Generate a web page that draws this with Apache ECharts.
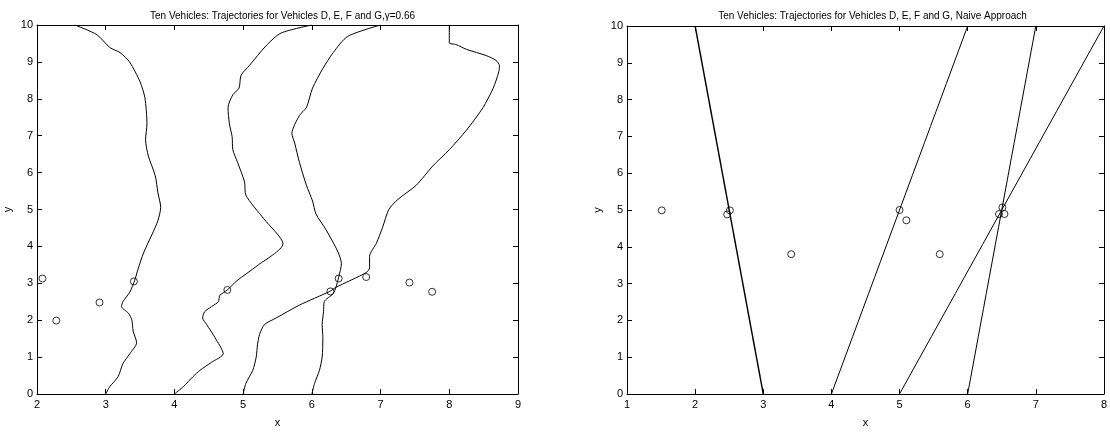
<!DOCTYPE html>
<html lang="en">
<head>
    <meta charset="UTF-8">
    <title>Ten Vehicles: Trajectories</title>
    <script src="https://cdn.jsdelivr.net/npm/echarts@6/dist/echarts.min.js"></script>
    <style>
        body { margin: 0; background: #fff; }
        #chart { width: 1110px; height: 433px; }
    </style>
</head>
<body>
<div id="chart"></div>
<script>
// trajectories with gamma = 0.66 (left plot)
const trajD = [[3.00,0],[3.06,0.20],[3.18,0.47],[3.25,0.82],[3.35,1.09],[3.45,1.39],[3.40,1.70],[3.38,2.01],[3.33,2.19],[3.23,2.37],[3.25,2.50],[3.35,2.76],[3.42,3.07],[3.47,3.38],[3.55,3.82],[3.67,4.31],[3.76,4.70],[3.80,5.06],[3.76,5.45],[3.72,5.92],[3.62,6.45],[3.58,6.89],[3.60,7.32],[3.57,8.03],[3.50,8.46],[3.35,8.99],[3.21,9.25],[3.06,9.39],[2.87,9.74],[2.55,10]];
const trajE = [[4.00,0],[4.13,0.20],[4.27,0.47],[4.37,0.64],[4.54,0.86],[4.71,1.09],[4.59,1.53],[4.47,1.88],[4.41,2.06],[4.44,2.23],[4.54,2.37],[4.64,2.50],[4.66,2.67],[4.77,2.82],[4.91,3.07],[5.20,3.47],[5.58,4.07],[5.30,4.75],[5.04,5.39],[5.02,5.75],[4.92,6.27],[4.85,6.62],[4.84,6.97],[4.80,7.32],[4.78,7.76],[4.85,8.11],[4.94,8.29],[4.97,8.64],[5.09,8.90],[5.33,9.43],[5.55,9.78],[6.00,10]];
const trajF = [[5.00,0],[5.04,0.29],[5.14,0.64],[5.19,1.00],[5.21,1.35],[5.24,1.62],[5.31,1.88],[5.48,2.06],[5.82,2.41],[6.26,2.78],[6.35,2.89],[6.79,3.29],[6.84,3.42],[6.84,3.73],[6.94,4.09],[7.03,4.52],[7.12,5.00],[7.25,5.27],[7.52,5.66],[7.76,6.18],[8.00,6.62],[8.25,7.15],[8.49,7.76],[8.64,8.29],[8.72,8.73],[8.73,8.90],[8.68,9.04],[8.54,9.17],[8.25,9.34],[8.10,9.47],[8.00,9.52],[8.00,10]];
const trajG = [[6.00,0],[6.04,0.29],[6.11,0.64],[6.15,1.00],[6.16,1.53],[6.15,1.88],[6.17,2.23],[6.18,2.50],[6.31,2.72],[6.35,2.89],[6.39,3.16],[6.43,3.53],[6.38,3.85],[6.21,4.44],[6.06,4.88],[6.01,5.23],[5.92,5.66],[5.82,6.27],[5.75,6.80],[5.71,7.06],[5.82,7.55],[5.92,7.76],[6.01,8.29],[6.16,8.82],[6.31,9.25],[6.52,9.69],[7.00,10]];
const carsLeft = [[2.08,3.13],[2.28,1.99],[2.91,2.48],[3.41,3.05],[4.77,2.82],[6.27,2.78],[6.39,3.13],[6.79,3.17],[7.42,3.02],[7.75,2.77]];

// naive approach (right plot): straight lines start -> goal
const naiveD = [[3,0],[2,10]];
const naiveE = [[4,0],[6,10]];
const naiveF = [[5,0],[8,10]];
const naiveG = [[6,0],[7,10]];
const carsRight = [[1.51,4.99],[2.47,4.88],[2.51,4.99],[3.41,3.80],[5.00,5.00],[5.10,4.72],[5.59,3.80],[6.46,4.89],[6.51,5.07],[6.54,4.89]];

const titles = ['Ten Vehicles: Trajectories for Vehicles D, E, F and G,\u03b3=0.66',
                'Ten Vehicles: Trajectories for Vehicles D, E, F and G, Naive Approach'];
const xRanges = [[2, 9], [1, 8]];

const font = 'Liberation Sans, Arial, sans-serif';
const chart = echarts.init(document.getElementById('chart'));

const grids = [
    { left: 37, top: 25, width: 481, height: 379 },
    { left: 627, top: 26, width: 481, height: 379 }
];

const xAxes = [];
const yAxes = [];
grids.forEach((g, i) => {
    const line = { show: true, onZero: false, lineStyle: { color: '#000', width: 1 } };
    const tick = { show: true, inside: true, length: 5, lineStyle: { color: '#000' } };
    xAxes.push({
        type: 'value', gridIndex: i, position: 'bottom',
        min: xRanges[i][0], max: xRanges[i][1], interval: 1,
        name: 'x', nameLocation: 'middle', nameGap: 23,
        nameTextStyle: { fontFamily: font, fontSize: 11, color: '#000' },
        axisLine: line, axisTick: tick, splitLine: { show: false },
        axisLabel: { fontFamily: font, fontSize: 11, color: '#000', margin: 5 }
    });
    xAxes.push({
        type: 'value', gridIndex: i, position: 'top',
        min: xRanges[i][0], max: xRanges[i][1], interval: 1,
        axisLine: line, axisTick: tick, splitLine: { show: false },
        axisLabel: { show: false }
    });
    yAxes.push({
        type: 'value', gridIndex: i, position: 'left',
        min: 0, max: 10, interval: 1,
        name: 'y', nameLocation: 'middle', nameGap: 24, nameRotate: 90,
        nameTextStyle: { fontFamily: font, fontSize: 11, color: '#000' },
        axisLine: line, axisTick: tick, splitLine: { show: false },
        axisLabel: { fontFamily: font, fontSize: 11, color: '#000', margin: 4 }
    });
    yAxes.push({
        type: 'value', gridIndex: i, position: 'right',
        min: 0, max: 10, interval: 1,
        axisLine: line, axisTick: tick, splitLine: { show: false },
        axisLabel: { show: false }
    });
});

function path(data, panel) {
    return {
        type: 'line', data: data, xAxisIndex: panel * 2, yAxisIndex: panel * 2,
        showSymbol: false, smooth: 0.25,
        lineStyle: { color: '#000', width: 1 }
    };
}
function cars(data, panel) {
    return {
        type: 'scatter', data: data, xAxisIndex: panel * 2, yAxisIndex: panel * 2,
        symbol: 'circle', symbolSize: 7, z: 5,
        itemStyle: { color: 'rgba(0,0,0,0)', borderColor: '#000', borderWidth: 1 }
    };
}

const series = [
    path(trajD, 0), path(trajE, 0), path(trajF, 0), path(trajG, 0), cars(carsLeft, 0),
    path(naiveD, 1), path(naiveE, 1), path(naiveF, 1), path(naiveG, 1), cars(carsRight, 1)
];
series[5].lineStyle.width = 1.4;

chart.setOption({
    animation: false,
    backgroundColor: '#fff',
    title: titles.map((t, i) => ({
        text: t, left: grids[i].left + grids[i].width / 2, top: 6, textAlign: 'center',
        textStyle: { fontFamily: font, fontSize: 10, fontWeight: 'normal', color: '#000' }
    })),
    grid: grids,
    xAxis: xAxes,
    yAxis: yAxes,
    series: series
});
</script>
</body>
</html>
